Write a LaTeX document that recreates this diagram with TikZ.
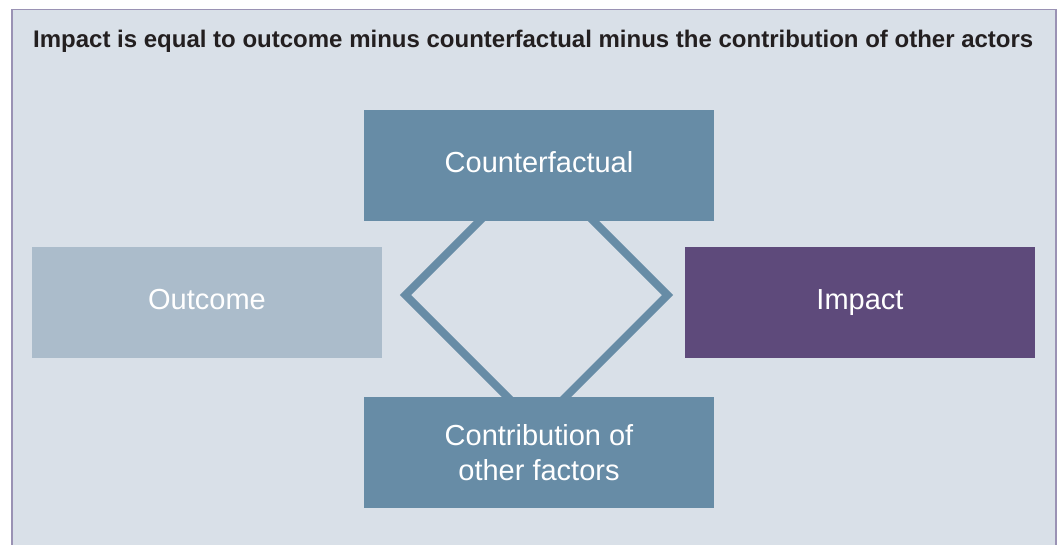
\documentclass[tikz,border=0pt]{standalone}
\usepackage{fontspec}
\setmainfont{Liberation Sans}
\definecolor{panelbg}{HTML}{D9E0E8}
\definecolor{panelline}{HTML}{9A92B4}
\definecolor{steel}{HTML}{678CA6}
\definecolor{paleblue}{HTML}{ABBCCB}
\definecolor{plum}{HTML}{5E4A7B}
\definecolor{ink}{HTML}{231F20}
\begin{document}
\begin{tikzpicture}[x=1pt,y=-1pt,
  box/.style={rectangle, minimum width=350pt, minimum height=111pt, inner sep=0pt,
    text=white, font=\fontsize{29}{35}\selectfont, align=center},
  oneline/.style={text height=21pt, text depth=7pt},
  link/.style={draw=steel, line width=7.8pt, line join=miter}]
  \useasboundingbox (0,0) rectangle (1059,544);
  % panel: open at the bottom edge
  \fill[panelbg] (12,9.5) rectangle (1056,550);
  \draw[panelline, line width=1.5pt] (12,550) -- (12,9.5) -- (1056,9.5) -- (1056,550);
  \node[anchor=base west, text=ink, font=\bfseries\fontsize{24}{28}\selectfont, inner sep=0pt]
    (title) at (33,47) {Impact is equal to outcome minus counterfactual minus the contribution of other actors};
  % diamond linking the four boxes (drawn first, boxes cover its top and bottom corners)
  \coordinate (dl) at (405.5,295);
  \coordinate (dt) at (536.5,164);
  \coordinate (dr) at (667.5,295);
  \coordinate (db) at (536.5,426);
  \draw[link] (dl) -- (dt) -- (dr) -- (db) -- cycle;
  \node[box, oneline, fill=steel] (cf) at (539,165) {Counterfactual};
  \node[box, fill=steel] (co) at (539,452.5) {Contribution of\\other factors};
  \node[box, oneline, fill=paleblue] (out) at (207,302) {Outcome};
  \node[box, oneline, fill=plum] (imp) at (860,302) {Impact};
\end{tikzpicture}
\end{document}
